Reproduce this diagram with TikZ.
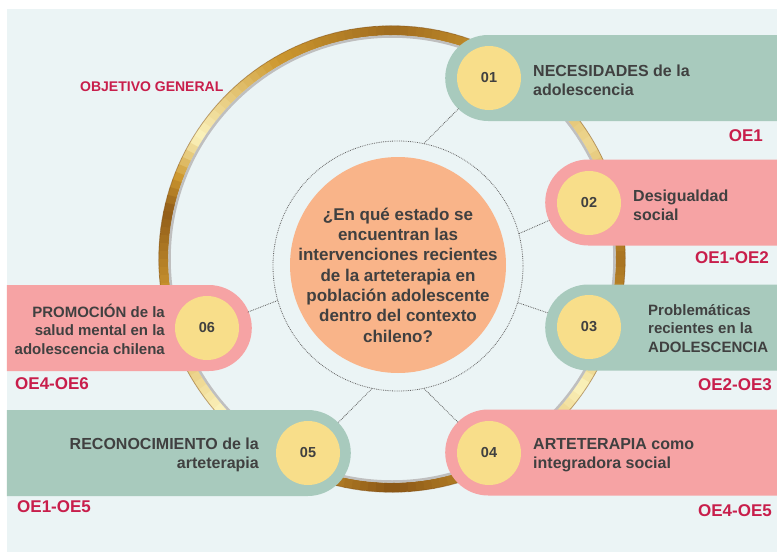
\documentclass[tikz,border=0pt]{standalone}
\usepackage{fontspec}
\setmainfont{Liberation Sans}
\usetikzlibrary{shapes.misc}
\definecolor{bg}{RGB}{235,244,245}
\definecolor{pgreen}{RGB}{168,202,189}
\definecolor{ppink}{RGB}{246,163,164}
\definecolor{yel}{RGB}{248,222,138}
\definecolor{orng}{RGB}{249,180,137}
\definecolor{dark}{RGB}{64,64,64}
\definecolor{crim}{RGB}{200,30,75}
\definecolor{rdark}{RGB}{130,78,18}
\definecolor{rgold}{RGB}{205,152,48}
\definecolor{rpale}{RGB}{252,244,190}
\tikzset{
  pillR/.style={rounded rectangle, rounded rectangle right arc=none, minimum height=86pt, anchor=west, inner sep=0pt, draw=none},
  pillL/.style={rounded rectangle, rounded rectangle left arc=none, minimum height=86pt, anchor=east, inner sep=0pt, draw=none},
  numc/.style={circle, fill=yel, minimum size=64pt, inner sep=0pt, text=dark, font=\fontsize{14.5}{14.5}\selectfont\bfseries},
  lbl/.style={text=dark, inner sep=0pt, font=\fontsize{16}{19}\selectfont\bfseries},
  lblthree/.style={text=dark, inner sep=0pt, font=\fontsize{15}{18.5}\selectfont\bfseries},
  oe/.style={text=crim, inner sep=0pt, font=\fontsize{17}{17}\selectfont\bfseries},
  conn/.style={densely dotted, draw=dark!85, line width=0.8pt, shorten >=11pt}
}
\begin{document}
\begin{tikzpicture}[x=1pt,y=-1pt]
\useasboundingbox (0,0) rectangle (777,552);
\fill[white] (0,0) rectangle (777,552);
\fill[bg] (7,9) rectangle (777,552);
% golden ring: tone 0 = dark brown, 1 = gold, 2 = pale
\foreach \a/\b/\ta/\tb in {0/30/0.5/1.7, 30/60/1.7/1.0, 60/90/1.0/0.4, 90/120/0.4/1.0, 120/148/1.0/2.0, 148/168/2.0/0.2, 168/190/0.2/1.0, 190/222/1.0/2.0, 222/250/2.0/0.8, 250/270/0.8/0.1, 270/300/0.1/1.0, 300/326/1.0/2.0, 326/344/2.0/1.0, 344/360/1.0/0.5} {
  \pgfmathtruncatemacro\n{(\b-\a)/2-1}
  \foreach \i in {0,...,\n} {
    \pgfmathsetmacro\x{\a+2*\i}
    \pgfmathsetmacro\t{\ta+(\tb-\ta)*(2*\i+1)/(\b-\a)}
    \ifdim\t pt>1pt
      \pgfmathsetmacro\q{(\t-1)*100}
      \colorlet{segc}{rpale!\q!rgold}
    \else
      \pgfmathsetmacro\q{\t*100}
      \colorlet{segc}{rgold!\q!rdark}
    \fi
    \draw[line width=9.5pt, segc] ({392+228.5*cos(\x)},{259-228.5*sin(\x)}) -- ({392+228.5*cos(\x+2.7)},{259-228.5*sin(\x+2.7)});
  }
}
\draw[line width=0.8pt, rdark, opacity=0.5] (392,259) circle [radius=233.2];
\draw[line width=2.5pt, black!25] (392,259) circle [radius=222.5];
% centre
\node[circle, draw=dark!80, densely dotted, line width=0.8pt, minimum size=250pt, inner sep=0pt] (dc) at (398,266) {};
\node[circle, fill=orng, minimum size=216pt, inner sep=0pt] (oc) at (398,265) {};
\node[align=center, text=dark, inner sep=0pt, font=\fontsize{17}{20.3}\selectfont\bfseries] (q) at (398,275)
  {¿En qué estado se\\encuentran las\\intervenciones recientes\\de la arteterapia en\\población adolescente\\dentro del contexto\\chileno?};
% pills
\node[pillR, fill=pgreen, minimum width=332pt] (p1) at (445,78) {};
\node[pillR, fill=ppink, minimum width=232pt] (p2) at (545,202.5) {};
\node[pillR, fill=pgreen, minimum width=232pt] (p3) at (545,327.5) {};
\node[pillR, fill=ppink, minimum width=332pt] (p4) at (445,452.5) {};
\node[pillL, fill=pgreen, minimum width=344pt] (p5) at (351,453) {};
\node[pillL, fill=ppink, minimum width=245pt] (p6) at (252,328) {};
% number circles
\node[numc] (c1) at (489,78) {01};
\node[numc] (c2) at (589,203) {02};
\node[numc] (c3) at (589,327) {03};
\node[numc] (c4) at (489,453) {04};
\node[numc] (c5) at (308,453) {05};
\node[numc] (c6) at (207,328) {06};
% connectors
\draw[conn] (dc.78) -- (c1);
\draw[conn] (dc.15) -- (c2);
\draw[conn] (dc.-17) -- (c3);
\draw[conn] (dc.-78) -- (c4);
\draw[conn] (dc.258) -- (c5);
\draw[conn] (dc.196) -- (c6);
% labels
\node[lbl, anchor=west, align=left] (t1) at (533,80) {NECESIDADES de la\\adolescencia};
\node[lbl, anchor=west, align=left] (t2) at (633,205) {Desigualdad\\social};
\node[lblthree, anchor=west, align=left] (t3) at (648,328.5) {Problemáticas\\recientes en la\\ADOLESCENCIA};
\node[lbl, anchor=west, align=left] (t4) at (533,455) {ARTETERAPIA como\\integradora social};
\node[lbl, anchor=east, align=right] (t5) at (259,455) {RECONOCIMIENTO de la\\arteterapia};
\node[lblthree, anchor=east, align=right] (t6) at (165,329) {PROMOCIÓN de la\\salud mental en la\\adolescencia chilena};
% objective codes
\node[oe, anchor=east] (o1) at (763,136) {OE1};
\node[oe, anchor=east] (o2) at (769,258) {OE1-OE2};
\node[oe, anchor=east] (o3) at (772,385) {OE2-OE3};
\node[oe, anchor=east] (o4) at (772,511) {OE4-OE5};
\node[oe, anchor=west] (o6) at (15,384) {OE4-OE6};
\node[oe, anchor=west] (o5) at (17,507) {OE1-OE5};
\node[text=crim, inner sep=0pt, anchor=west, font=\fontsize{14}{14}\selectfont\bfseries] (og) at (80,87) {OBJETIVO GENERAL};
\end{tikzpicture}
\end{document}
